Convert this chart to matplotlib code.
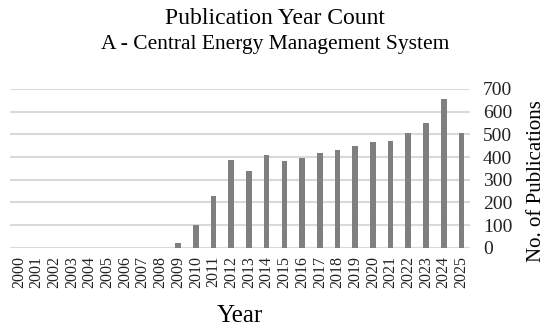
import matplotlib.pyplot as plt

years = [str(y) for y in range(2000, 2026)]
counts = [0, 0, 0, 0, 0, 0, 0, 0, 0, 20, 100, 227, 388, 338, 409,
          384, 394, 418, 432, 447, 465, 469, 504, 550, 656, 504]
yticks = [0, 100, 200, 300, 400, 500, 600, 700]

plt.rcParams['font.family'] = ['Liberation Serif', 'DejaVu Serif']

fig = plt.figure(figsize=(5.5, 3.29), dpi=100)
ax = fig.add_axes([0.018, 0.247, 0.837, 0.4825])

x = range(len(years))
ax.bar(x, counts, width=0.32, color='#7f7f7f', zorder=3)

ax.set_xlim(-0.5, len(years) - 0.5)
ax.set_ylim(0, 700)
ax.set_yticks(yticks)
ax.set_yticklabels([str(v) for v in yticks], fontsize=14, color='#222222')
ax.yaxis.tick_right()
ax.tick_params(axis='y', length=0, pad=9)
ax.grid(axis='y', color='#d9d9d9', linewidth=1.5, zorder=0)

ax.set_xticks(list(x))
ax.set_xticklabels(years, rotation=90, fontsize=11.5, color='#222222')
ax.tick_params(axis='x', length=0, pad=6)

for s in ax.spines.values():
    s.set_visible(False)

ax.set_xlabel('Year', fontsize=18, labelpad=12)
fig.text(0.975, 1 - 181 / 329, 'No. of Publications', rotation=90,
         ha='center', va='center', fontsize=15)

fig.text(0.5, 0.945, 'Publication Year Count', ha='center', va='center', fontsize=17)
fig.text(0.5, 0.865, 'A - Central Energy Management System', ha='center', va='center', fontsize=15.5)

fig.savefig('out.png', dpi=100)
